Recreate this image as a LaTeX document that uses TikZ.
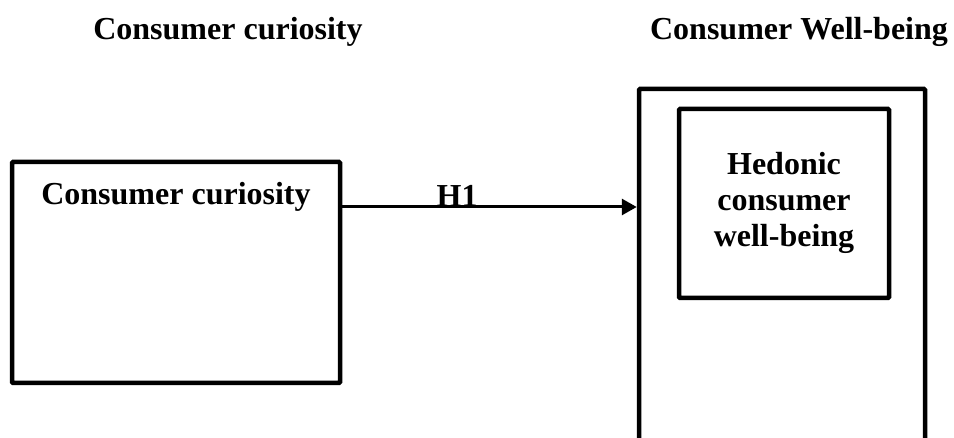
\documentclass[tikz,border=0pt]{standalone}
\usepackage{fontspec}
\setmainfont{Liberation Serif}
\usetikzlibrary{arrows.meta}
\begin{document}
\begin{tikzpicture}[x=1pt,y=-1pt,
  box/.style={draw=black,line width=4.5pt,rounded corners=1pt,inner sep=0pt},
  txt/.style={font=\fontsize{32}{36}\selectfont\bfseries,inner sep=0pt,align=center},
  arr/.style={line width=3pt,-{Triangle[length=15pt,width=16pt]}}]
\useasboundingbox (0,0) rectangle (954,438);
\begin{scope}
\clip (0,0) rectangle (954,438);
\node[box,minimum width=328pt,minimum height=221pt] (cc) at (176,272.5) {};
\node[box,minimum width=286pt,minimum height=390pt] (wb) at (782,284) {};
\node[box,minimum width=210pt,minimum height=189pt] (hw) at (784,203.5) {};
\end{scope}
\node[txt] (t1) at (228,32) {Consumer curiosity};
\node[txt] (t2) at (799,32) {Consumer Well-being};
\node[txt] (cct) at (176,197) {Consumer curiosity};
\node[txt] (hwt) at (784,203) {Hedonic\\consumer\\well-being};
\coordinate (h) at (0,207);
\draw[arr] (cc.east |- h) -- node[txt,above=-1pt,pos=0.39] (h1) {H1} (wb.west |- h);
\end{tikzpicture}
\end{document}
